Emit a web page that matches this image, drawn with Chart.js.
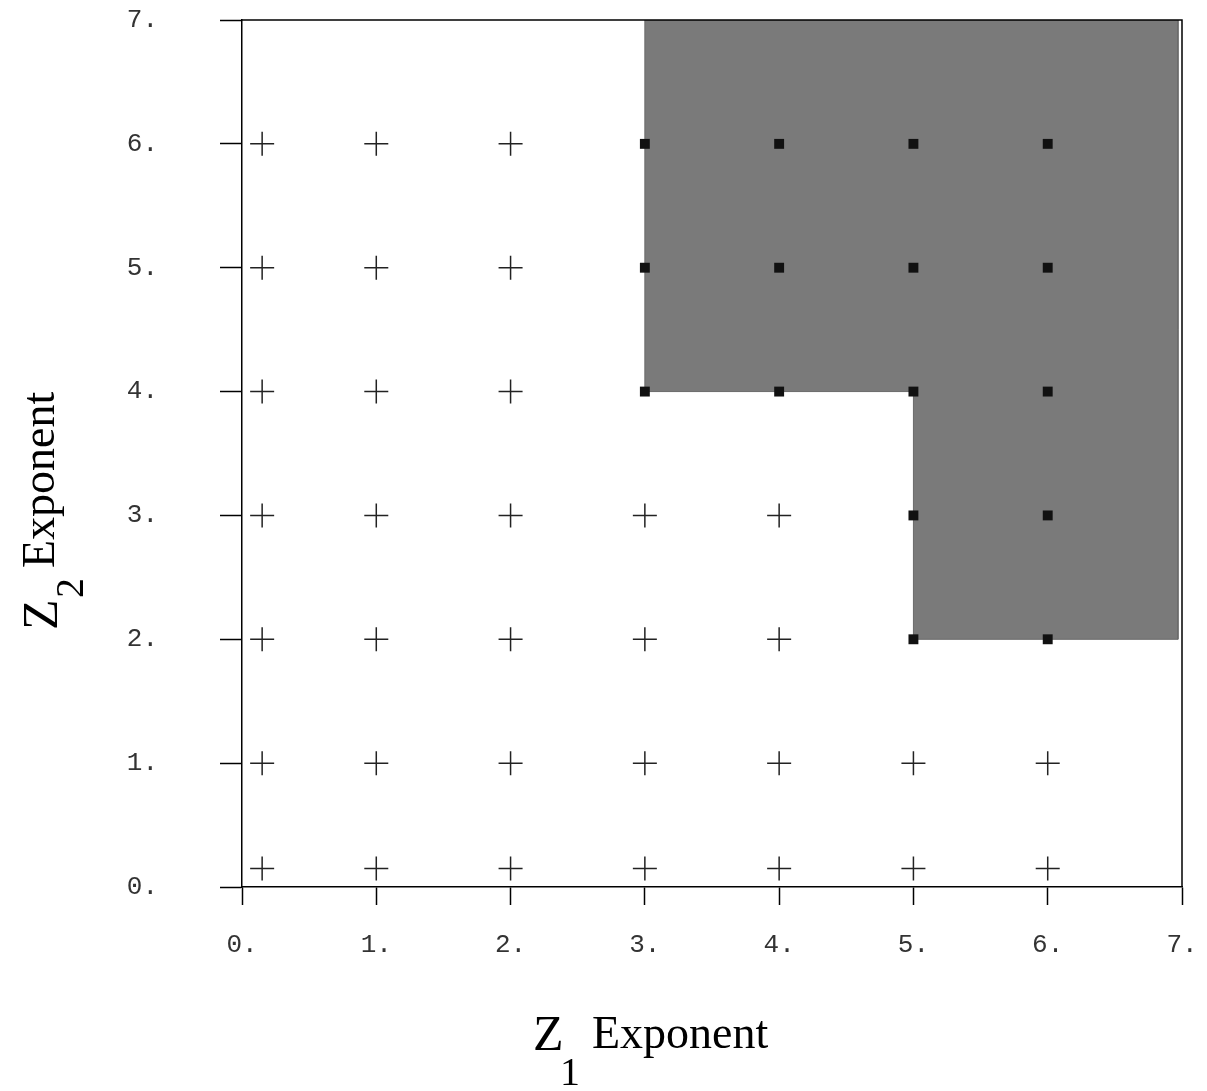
<!DOCTYPE html>
<html>
<head>
<meta charset="utf-8">
<script src="https://cdn.jsdelivr.net/npm/chart.js@4/dist/chart.umd.min.js"></script>
<style>
  body { margin: 0; background: #fff; }
  #wrap { width: 1207px; height: 1091px; }
</style>
</head>
<body>
<div id="wrap"><canvas id="c"></canvas></div>
<script>
// grid points that fall outside the shaded region (crosses)
var crossPts = [
  [0.15, 0.15], [1, 0.15], [2, 0.15], [3, 0.15], [4, 0.15], [5, 0.15], [6, 0.15],
  [0.15, 1], [1, 1], [2, 1], [3, 1], [4, 1], [5, 1], [6, 1],
  [0.15, 2], [1, 2], [2, 2], [3, 2], [4, 2],
  [0.15, 3], [1, 3], [2, 3], [3, 3], [4, 3],
  [0.15, 4], [1, 4], [2, 4],
  [0.15, 5], [1, 5], [2, 5],
  [0.15, 6], [1, 6], [2, 6]
];
// grid points inside the shaded region (squares)
var squarePts = [
  [5, 2], [6, 2], [5, 3], [6, 3],
  [3, 4], [4, 4], [5, 4], [6, 4],
  [3, 5], [4, 5], [5, 5], [6, 5],
  [3, 6], [4, 6], [5, 6], [6, 6]
];
// outline of the shaded region
var regionX = [3, 6.97, 6.97, 5, 5, 3, 3];
var regionY = [7, 7, 2, 2, 4, 4, 7];
var tickValues = [0, 1, 2, 3, 4, 5, 6, 7];

function toXY(arr) {
  return arr.map(function (p) { return { x: p[0], y: p[1] }; });
}

var frame = {
  id: 'frame',
  afterDraw: function (chart) {
    var ctx = chart.ctx, a = chart.chartArea;
    ctx.save();
    ctx.strokeStyle = '#000';
    ctx.lineWidth = 1.5;
    ctx.beginPath();
    ctx.moveTo(a.left, a.top);
    ctx.lineTo(a.right, a.top);
    ctx.lineTo(a.right, a.bottom);
    ctx.stroke();
    // axis titles with subscripts
    ctx.fillStyle = '#000';
    ctx.textBaseline = 'alphabetic';
    ctx.font = '50px "Liberation Serif"';
    ctx.fillText('Z', 533, 1050);
    ctx.font = '40px "Liberation Serif"';
    ctx.fillText('1', 560, 1085);
    ctx.font = '46px "Liberation Serif"';
    ctx.fillText('Exponent', 592, 1048);
    ctx.translate(57, 0);
    ctx.rotate(-Math.PI / 2);
    ctx.font = '50px "Liberation Serif"';
    ctx.fillText('Z', -630, 0);
    ctx.font = '40px "Liberation Serif"';
    ctx.fillText('2', -598, 26);
    ctx.font = '46px "Liberation Serif"';
    ctx.fillText('Exponent', -568, -3);
    ctx.restore();
  }
};

var tickFont = { family: '"Liberation Mono", monospace', size: 26 };

new Chart(document.getElementById('c'), {
  type: 'scatter',
  data: {
    datasets: [
      {
        data: regionX.map(function (x, i) { return { x: x, y: regionY[i] }; }),
        showLine: true,
        fill: 'shape',
        backgroundColor: '#7a7a7a',
        borderColor: '#6a6a6a',
        borderWidth: 1,
        pointRadius: 0,
        tension: 0,
        order: 3
      },
      {
        data: toXY(crossPts),
        pointStyle: 'cross',
        pointRadius: 12,
        borderColor: '#222',
        borderWidth: 1.5,
        order: 1
      },
      {
        data: toXY(squarePts),
        pointStyle: 'rect',
        pointRadius: 7,
        backgroundColor: '#111',
        borderColor: '#111',
        borderWidth: 0,
        order: 1
      }
    ]
  },
  options: {
    responsive: true,
    maintainAspectRatio: false,
    animation: false,
    plugins: { legend: { display: false }, tooltip: { enabled: false } },
    layout: { padding: { left: 0, top: 20, right: 25, bottom: 0 } },
    scales: {
      x: {
        type: 'linear', min: 0, max: 7,
        afterBuildTicks: function (s) { s.ticks = tickValues.map(function (v) { return { value: v }; }); },
        afterFit: function (s) { s.height = 204; s.paddingLeft = 0; s.paddingRight = 0; },
        ticks: { callback: function (v) { return v + '.'; }, color: '#333', font: tickFont, padding: 25, maxRotation: 0 },
        grid: { drawOnChartArea: false, tickLength: 18, color: '#000', tickWidth: 1.5 },
        border: { color: '#000', width: 1.5 }
      },
      y: {
        type: 'linear', min: 0, max: 7,
        afterBuildTicks: function (s) { s.ticks = tickValues.map(function (v) { return { value: v }; }); },
        afterFit: function (s) { s.width = 242; s.paddingTop = 0; s.paddingBottom = 0; },
        ticks: { callback: function (v) { return v + '.'; }, color: '#333', font: tickFont, padding: 62 },
        grid: { drawOnChartArea: false, tickLength: 22, color: '#000', tickWidth: 1.5 },
        border: { color: '#000', width: 1.5 }
      }
    }
  },
  plugins: [frame]
});
</script>
</body>
</html>
